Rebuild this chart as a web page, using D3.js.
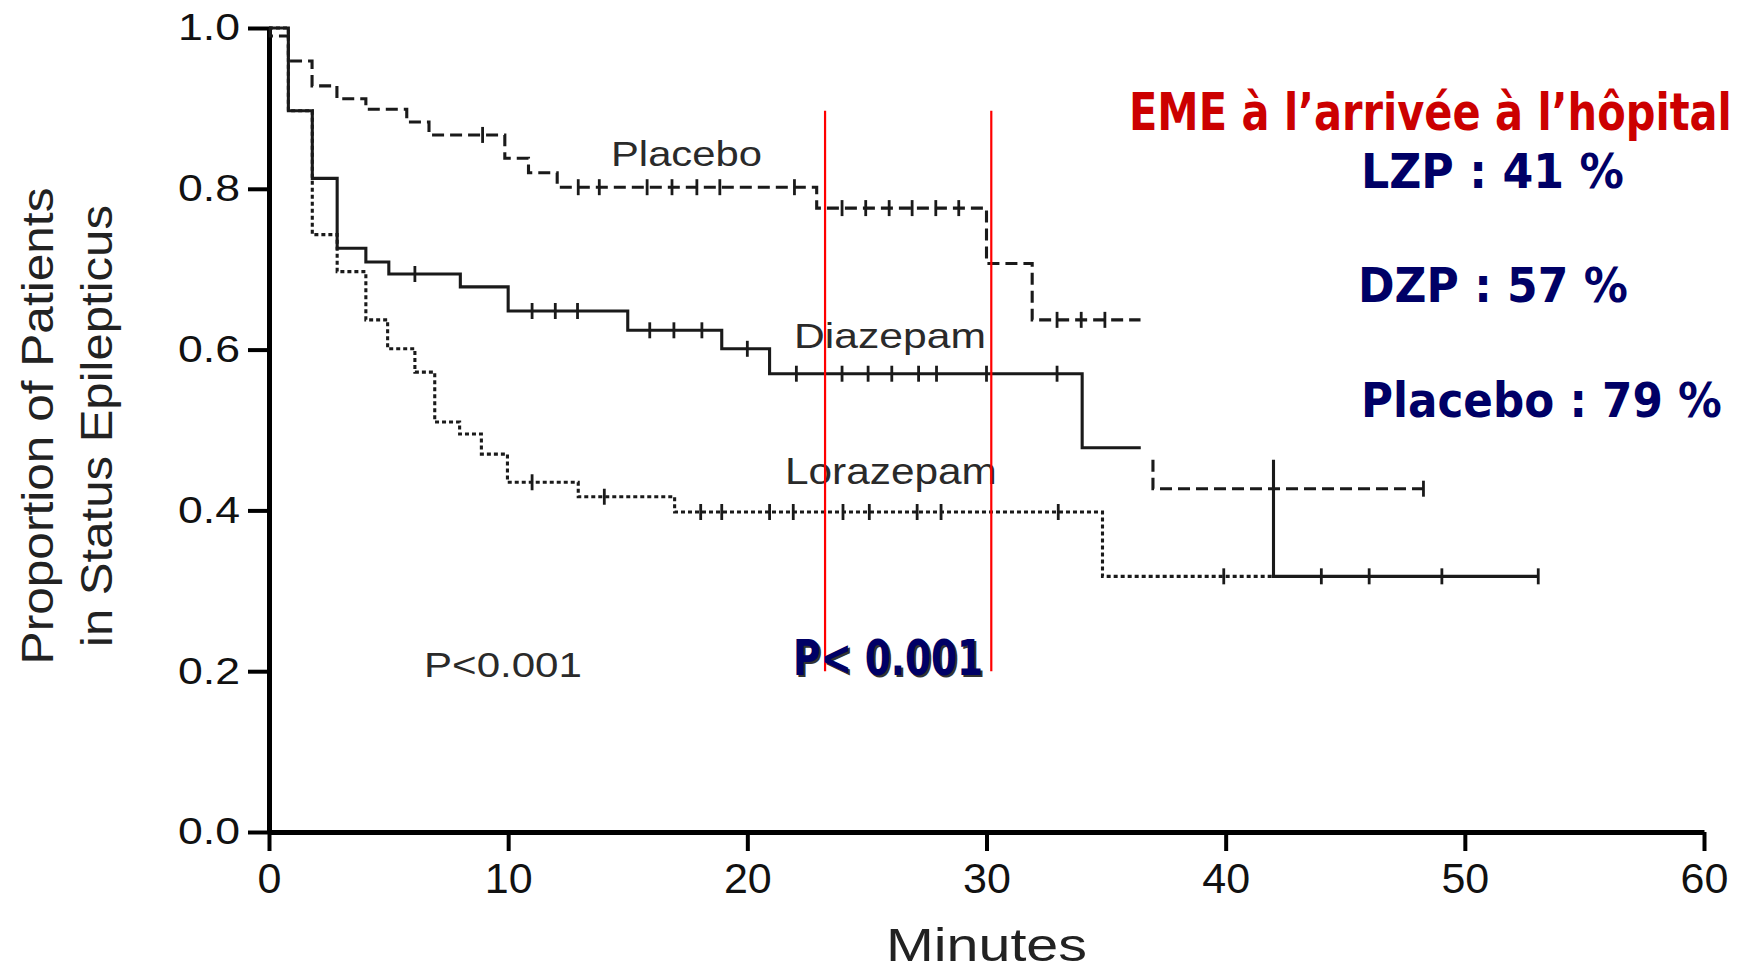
<!DOCTYPE html>
<html>
<head>
<meta charset="utf-8">
<script src="https://cdn.jsdelivr.net/npm/d3@7"></script>
<style>
  body { margin: 0; background: #fff; }
  svg { display: block; }
  .axis text { font-family: "Liberation Sans", Arial, sans-serif; fill: #111; }
  .axis path, .axis line { stroke: #000; }
</style>
</head>
<body>
<svg id="chart" width="1748" height="972"></svg>
<script>
// Kaplan-Meier steps (minutes, proportion still in SE)
const placeboTimes = [0, 0.05, 0.81, 1.8, 2.84, 4.05, 5.76, 6.69, 9.86, 10.85, 12.05, 22.9, 30.0, 31.91];
const placeboValues = [1.0, 0.99, 0.959, 0.928, 0.912, 0.899, 0.883, 0.867, 0.838, 0.820, 0.802, 0.776, 0.707, 0.637];
const placeboEnd = 36.44;
const placeboCensored = [8.93, 12.93, 13.81, 15.81, 16.85, 17.89, 18.85, 21.97, 23.96, 24.95, 25.93, 26.89, 27.88, 28.84, 32.95, 33.96, 34.95];

const diazepamTimes = [0, 0.81, 1.81, 2.85, 4.05, 5.01, 8.0, 10.0, 15.0, 18.93, 20.93, 34.0];
const diazepamValues = [1.0, 0.897, 0.813, 0.726, 0.709, 0.694, 0.678, 0.648, 0.624, 0.601, 0.570, 0.478];
const diazepamEnd = 36.45;
const diazepamCensored = [6.1, 11.0, 11.97, 12.9, 15.92, 16.93, 18.1, 20.0, 22.05, 23.96, 25.05, 26.04, 27.16, 27.91, 30.0, 32.95];

const lorazepamTimes = [0, 0.81, 1.81, 2.85, 4.05, 4.96, 6.1, 6.93, 7.97, 8.88, 9.97, 12.93, 16.96, 34.85];
const lorazepamValues = [1.0, 0.897, 0.743, 0.697, 0.637, 0.601, 0.572, 0.510, 0.495, 0.470, 0.435, 0.417, 0.398, 0.318];
const lorazepamEnd = 42.0;
const lorazepamCensored = [11.0, 14.02, 18.05, 18.93, 20.93, 21.92, 24.0, 25.1, 27.1, 28.1, 33.0, 39.92];

// late pieces of the curves as they appear in the figure
const dashedTailTimes = [36.96, 36.96];
const dashedTailValues = [0.463, 0.427];
const dashedTailEnd = 48.27;
const dashedTailCensored = [48.27];

const solidTailTimes = [42.0, 42.0];
const solidTailValues = [0.463, 0.318];
const solidTailEnd = 53.07;
const solidTailCensored = [44.0, 46.0, 49.04, 53.07];

const xTicks = [0, 10, 20, 30, 40, 50, 60];
const yTicks = [0, 0.2, 0.4, 0.6, 0.8, 1.0];

// red markers drawn on the slide
const markerTimes = [23.25, 30.2];
const markerRange = [0.2, 0.897];

const summaryTitle = "EME à l\u2019arrivée à l\u2019hôpital";
const summaryLines = ["LZP : 41 %", "DZP : 57 %", "Placebo : 79 %"];

const svg = d3.select("#chart");

const x =
  d3.scaleLinear()
    .domain([0, 60])
    .range([269, 1704]);

const y =
  d3.scaleLinear()
    .domain([0, 1])
    .range([832, 28]);

function valueAt(times, values, t) {
  let v = values[0];
  times.forEach((tt, i) => {
    if (tt <= t) v = values[i];
  });
  return v;
}

// squeeze / stretch a text horizontally so it covers a given width
function fitWidth(sel, px, py, width, rot) {
  const w = sel.node().getComputedTextLength();
  const k = width / w;
  sel.attr("x", 0).attr("y", 0)
    .attr("transform", `translate(${px},${py}) rotate(${rot || 0}) scale(${k},1)`);
}

function drawCurve(times, values, end, censored, dash) {

  const pts = times.map((t, i) => [t, values[i]]);
  pts.push([end, values[values.length - 1]]);

  const line =
    d3.line()
      .x(d => x(d[0]))
      .y(d => y(d[1]))
      .curve(d3.curveStepAfter);

  svg.append("path")
    .attr("d", line(pts))
    .attr("fill", "none")
    .attr("stroke", "#1a1a1a")
    .attr("stroke-width", 3.1)
    .attr("stroke-dasharray", dash);

  svg.selectAll(null)
    .data(censored)
    .enter()
    .append("line")
    .attr("x1", d => x(d))
    .attr("x2", d => x(d))
    .attr("y1", d => y(valueAt(times, values, d)) - 8)
    .attr("y2", d => y(valueAt(times, values, d)) + 8)
    .attr("stroke", "#1a1a1a")
    .attr("stroke-width", 2.8);
}

// axes
const yAxis =
  d3.axisLeft(y)
    .tickValues(yTicks)
    .tickFormat(d3.format(".1f"))
    .tickSize(21)
    .tickSizeOuter(0)
    .tickPadding(8);

const yg = svg.append("g")
  .attr("class", "axis")
  .attr("transform", `translate(${x(0)},0)`)
  .call(yAxis);

yg.select(".domain").attr("stroke-width", 5);
yg.selectAll(".tick line").attr("stroke-width", 4);
yg.selectAll(".tick text")
  .attr("font-size", 37)
  .each(function () {
    fitWidth(d3.select(this), -29, 0, 62);
  });

const xAxis =
  d3.axisBottom(x)
    .tickValues(xTicks)
    .tickSize(19)
    .tickSizeOuter(0)
    .tickPadding(11);

const xg = svg.append("g")
  .attr("class", "axis")
  .attr("transform", `translate(0,${y(0)})`)
  .call(xAxis);

xg.select(".domain").attr("stroke-width", 5);
xg.selectAll(".tick line").attr("stroke-width", 4);
xg.selectAll(".tick text").attr("font-size", 43);

// curves
drawCurve(placeboTimes, placeboValues, placeboEnd, placeboCensored, "12 6");
drawCurve(diazepamTimes, diazepamValues, diazepamEnd, diazepamCensored, null);
drawCurve(lorazepamTimes, lorazepamValues, lorazepamEnd, lorazepamCensored, "4 3");
drawCurve(dashedTailTimes, dashedTailValues, dashedTailEnd, dashedTailCensored, "12 6");
drawCurve(solidTailTimes, solidTailValues, solidTailEnd, solidTailCensored, null);

// labels on the plot
const plotFont = "'Liberation Sans', Arial, sans-serif";

function plotLabel(txt, px, py, size, len) {
  const t = svg.append("text")
    .attr("font-family", plotFont)
    .attr("font-size", size)
    .attr("fill", "#2a2a2a")
    .text(txt);
  fitWidth(t, px, py, len);
}

plotLabel("Placebo", 611, 166, 35, 151);
plotLabel("Diazepam", 794, 348, 35, 192);
plotLabel("Lorazepam", 785, 484, 36, 212);
plotLabel("P<0.001", 424, 677, 35, 158);

// axis titles
const minutes = svg.append("text")
  .attr("font-family", plotFont)
  .attr("font-size", 46)
  .attr("fill", "#222")
  .text("Minutes");
fitWidth(minutes, 886, 961, 201);

[["Proportion of Patients", 53, 477], ["in Status Epilepticus", 112, 442]]
  .forEach(([txt, bx, len]) => {
    const t = svg.append("text")
      .attr("text-anchor", "middle")
      .attr("font-family", plotFont)
      .attr("font-size", 45)
      .attr("fill", "#222")
      .text(txt);
    fitWidth(t, bx, 426, len, -90);
  });

// red vertical markers
svg.selectAll(null)
  .data(markerTimes)
  .enter()
  .append("line")
  .attr("x1", d => x(d))
  .attr("x2", d => x(d))
  .attr("y1", y(markerRange[1]))
  .attr("y2", y(markerRange[0]))
  .attr("stroke", "#ff0000")
  .attr("stroke-width", 2.2);

// bold annotation
const boldFont = "'DejaVu Sans', Verdana, sans-serif";

[["#333", 2], ["#000066", 0]].forEach(([c, off]) => {
  const t = svg.append("text")
    .attr("font-family", "'DejaVu Sans Condensed', 'DejaVu Sans', sans-serif")
    .attr("font-weight", "bold")
    .attr("font-size", 50)
    .attr("fill", c)
    .text("P< 0.001");
  fitWidth(t, 793 + off, 675 + off, 190);
});

const title = svg.append("text")
  .attr("font-family", boldFont)
  .attr("font-weight", "bold")
  .attr("font-size", 52)
  .attr("fill", "#cc0000")
  .text(summaryTitle);
fitWidth(title, 1129, 130, 603);

const summaryPos = [[1361, 188, 263], [1358, 302, 270], [1361, 417, 361]];

summaryLines.forEach((txt, i) => {
  const t = svg.append("text")
    .attr("font-family", boldFont)
    .attr("font-weight", "bold")
    .attr("font-size", 48)
    .attr("fill", "#000066")
    .text(txt);
  fitWidth(t, summaryPos[i][0], summaryPos[i][1], summaryPos[i][2]);
});
</script>
</body>
</html>
